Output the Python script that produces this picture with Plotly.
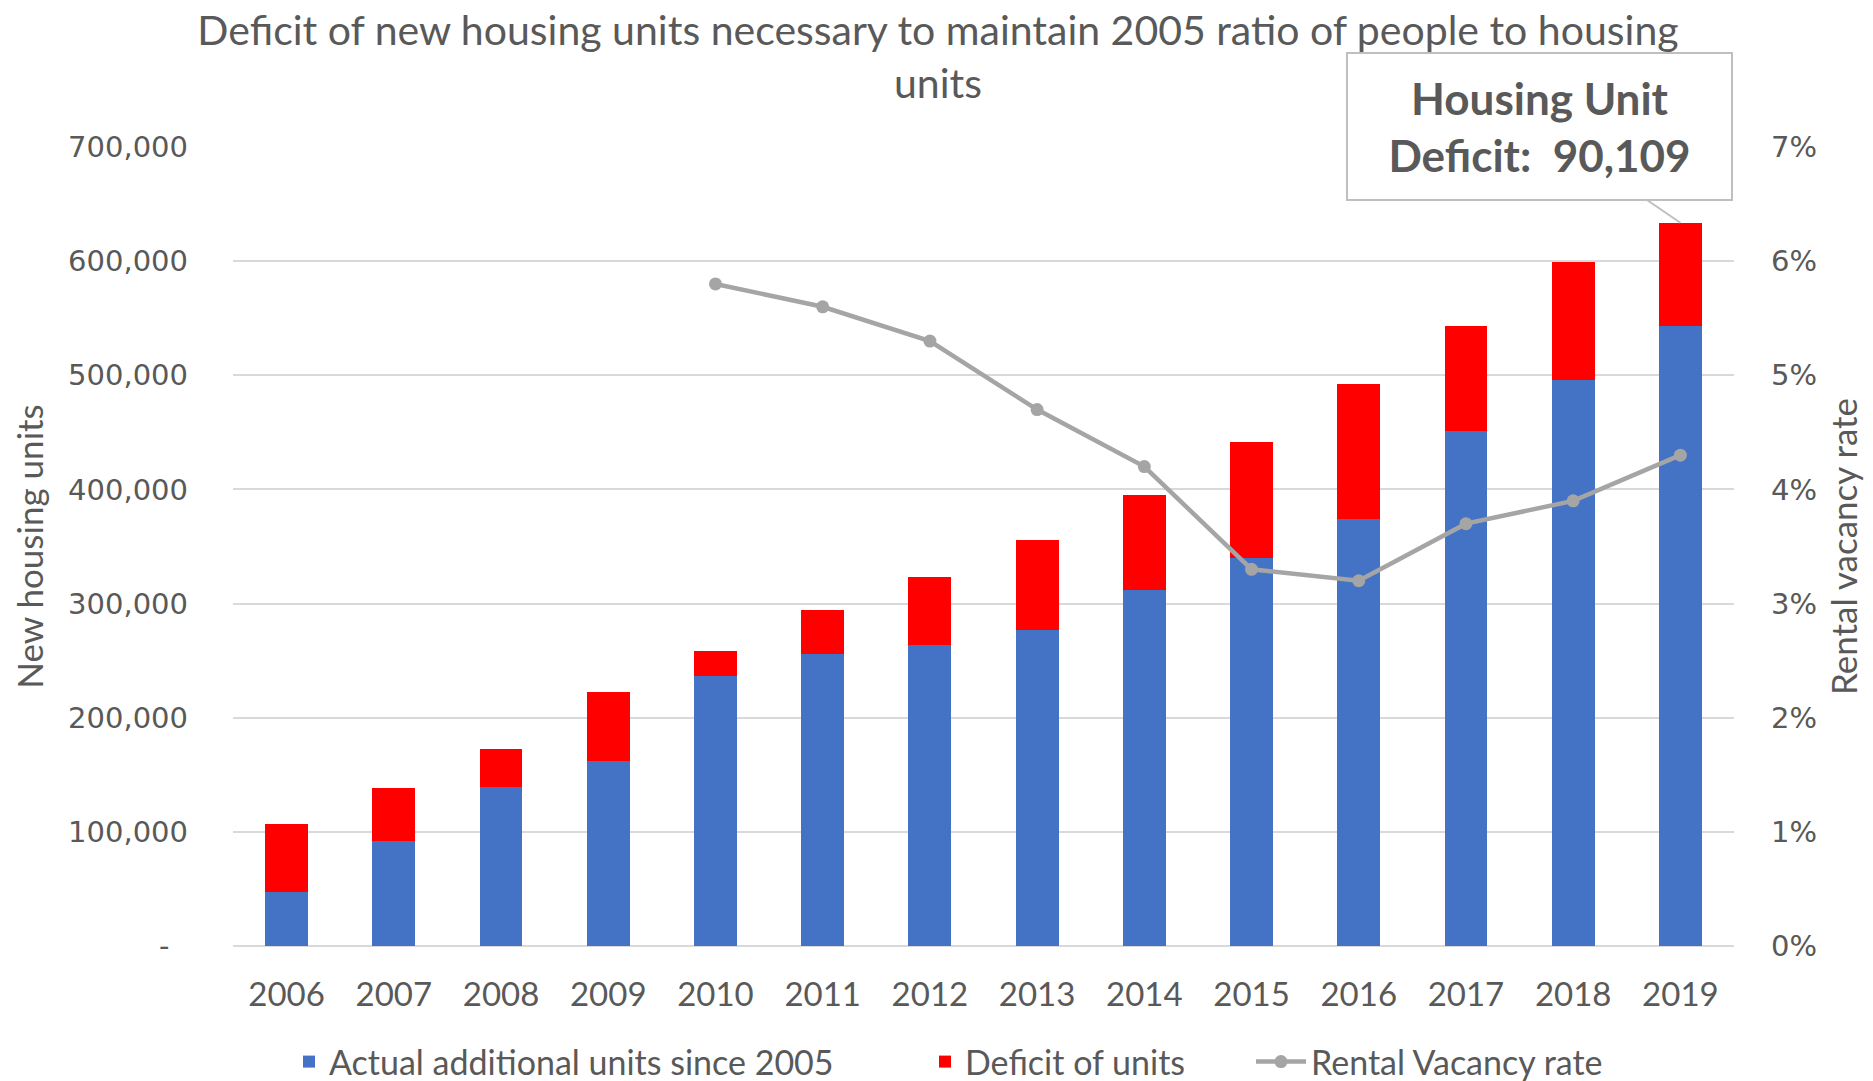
import plotly.graph_objects as go

years = ["2006", "2007", "2008", "2009", "2010", "2011", "2012",
         "2013", "2014", "2015", "2016", "2017", "2018", "2019"]
actual_units = [47400, 92300, 139700, 162000, 236300, 255600, 263500,
                276500, 312000, 340200, 374300, 451600, 496200, 543500]
deficit_units = [59600, 46200, 33200, 60800, 21800, 39000, 60000,
                 78900, 83000, 101500, 118100, 91300, 102900, 90109]
vacancy_rate = [None, None, None, None, 0.058, 0.056, 0.053,
                0.047, 0.042, 0.033, 0.032, 0.037, 0.039, 0.043]
left_ticks = [0, 100000, 200000, 300000, 400000, 500000, 600000, 700000]
left_ticktext = ["-\u00a0\u00a0", "100,000", "200,000", "300,000", "400,000",
                 "500,000", "600,000", "700,000"]
right_ticks = [0, 0.01, 0.02, 0.03, 0.04, 0.05, 0.06, 0.07]
title_line1 = "Deficit of new housing units necessary to maintain 2005 ratio of people to housing"
title_line2 = "units"

TXT = "#595959"
BODY = "Lato, 'Open Sans', sans-serif"
TICK = "'DejaVu Sans', sans-serif"

# page body has an 8px margin, so the figure is drawn 8px smaller
W, H = 1865, 1073
ML, MR, MT, MB = 225, 139, 139, 135
PH = H - MT - MB
PW = W - ML - MR
TITLE_CX = 930  # figure pixel column of the title centre


def py(px):
    """figure pixel row -> paper y"""
    return (H - MB - px) / PH


def pxx(px):
    """figure pixel column -> paper x"""
    return (px - ML) / PW


fig = go.Figure()
fig.add_trace(go.Bar(x=years, y=actual_units, name="Actual additional units since 2005",
                     marker=dict(color="#4472c4", line=dict(width=0)), legend="legend"))
fig.add_trace(go.Bar(x=years, y=deficit_units, name="Deficit of units",
                     marker=dict(color="#ff0000", line=dict(width=0)), legend="legend2"))
fig.add_trace(go.Scatter(x=years, y=vacancy_rate, name="Rental Vacancy rate", yaxis="y2",
                         mode="lines+markers", line=dict(color="#a5a5a5", width=4.5),
                         marker=dict(color="#a5a5a5", size=13), legend="legend3"))

top_last = actual_units[-1] + deficit_units[-1]
fig.add_annotation(
    x=len(years) - 1, y=top_last, xref="x", yref="y",
    text="Housing Unit<br>Deficit:\u00a0\u00a0" + f"{deficit_units[-1]:,}",
    showarrow=True, arrowhead=0, arrowwidth=2, arrowcolor="#bfbfbf",
    ax=-141, ay=-96, standoff=0,
    font=dict(family=BODY, size=44, color=TXT, weight="bold"),
    bgcolor="white", bordercolor="#bfbfbf", borderwidth=2,
    width=381, height=143,
)
fig.add_annotation(
    text=title_line2, xref="paper", yref="paper", x=pxx(TITLE_CX), y=py(74),
    xanchor="center", yanchor="middle", showarrow=False,
    font=dict(family=BODY, size=41, color=TXT),
)

leg_common = dict(orientation="h", xanchor="left", yanchor="middle", y=py(1054),
                  font=dict(family=BODY, size=34, color=TXT), bgcolor="rgba(0,0,0,0)")

fig.update_layout(
    width=W, height=H,
    margin=dict(l=ML, r=MR, t=MT, b=MB, autoexpand=False),
    paper_bgcolor="white", plot_bgcolor="white",
    barmode="stack", bargap=0.6,
    title=dict(text=title_line1,
               x=TITLE_CX / W, xanchor="center", y=1 - 23 / H, yanchor="middle",
               xref="container", yref="container",
               font=dict(family=BODY, size=41, color=TXT)),
    xaxis=dict(type="category", range=[-0.5, len(years) - 0.5], showgrid=False,
               showline=False, zeroline=False,
               ticks="", tickfont=dict(family=BODY, size=33, color=TXT), ticklabelstandoff=26),
    yaxis=dict(range=[0, 700000], tickvals=left_ticks, ticktext=left_ticktext,
               showgrid=True, gridcolor="#d9d9d9", gridwidth=1.5,
               zeroline=True, zerolinecolor="#d9d9d9", zerolinewidth=1.5,
               showline=False, ticks="", ticklabelstandoff=44,
               tickfont=dict(family=TICK, size=29, color=TXT),
               title=dict(text="New housing units", standoff=18,
                          font=dict(family=BODY, size=35, color=TXT))),
    yaxis2=dict(range=[0, 0.07], tickvals=right_ticks, tickformat=".0%",
                overlaying="y", side="right", showgrid=False, zeroline=False,
                showline=False, ticks="", ticklabelstandoff=36,
                tickfont=dict(family=TICK, size=29, color=TXT),
                title=dict(text="Rental vacancy rate", standoff=16,
                           font=dict(family=BODY, size=35, color=TXT))),
    legend=dict(x=pxx(281), **leg_common),
    legend2=dict(x=pxx(917), **leg_common),
    legend3=dict(x=pxx(1243), itemwidth=50, **leg_common),
    showlegend=True,
)

fig.write_html("out.html")
